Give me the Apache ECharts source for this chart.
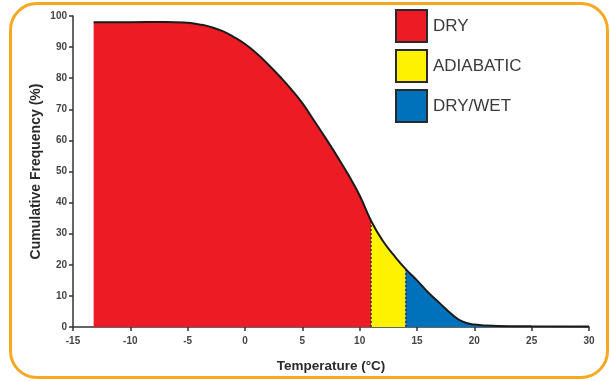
<!DOCTYPE html>
<html>
<head>
<meta charset="utf-8">
<script src="https://cdn.jsdelivr.net/npm/echarts@6/dist/echarts.min.js"></script>
<style>
	html, body { margin: 0; padding: 0; background: #fff; }
	#wrap { position: relative; width: 610px; height: 381px; }
	#chart { position: absolute; left: 0; top: 0; width: 610px; height: 381px; }
	#frame {
		position: absolute; left: 9px; top: 2px; width: 594px; height: 371px;
		border: 3px solid #f7a823; border-radius: 28px; pointer-events: none;
	}
</style>
</head>
<body>
<div id="wrap">
	<div id="chart"></div>
	<div id="frame"></div>
</div>
<script>
// curve
var tempC = [-13.2, -10, -7, -5, -4, -3, -2, -1, 0, 1, 2, 3, 4, 5, 6, 7, 8, 9, 10, 11, 12, 13, 14, 15, 16, 17, 18, 19, 20, 22, 25, 30]
var freq = [98, 98, 98.1, 97.8, 97.3, 96.5, 95.2, 93.3, 91, 88, 84.5, 80.7, 76.6, 72, 66.5, 60.9, 55.1, 49, 42.3, 34.1, 27.8, 23, 18.7, 15, 11, 7.6, 4.2, 1.7, 0.8, 0.35, 0.25, 0.2]
// zone limits (°C)
var dryEnd = 11
var adiabaticEnd = 14
var zoneNames = ['DRY', 'ADIABATIC', 'DRY/WET']
var zoneColors = ['#ed1c24', '#fff200', '#0072bc']

var points = tempC.map(function (t, i) { return [t, freq[i]] })
function slice(lo, hi) {
	return points.filter(function (p) { return p[0] >= lo && p[0] <= hi })
}
function freqAt(t) {
	return freq[tempC.indexOf(t)]
}

var chart = echarts.init(document.getElementById('chart'))
var font = '"Liberation Sans", Arial, sans-serif'

function zone(name, color, data) {
	return {
		name: name,
		type: 'line',
		data: data,
		smooth: 0.5,
		symbol: 'none',
		itemStyle: { color: color },
		lineStyle: { width: 0 },
		areaStyle: { color: color, opacity: 1 },
		silent: true,
		z: 2
	}
}

chart.setOption({
	animation: false,
	grid: { left: 73, right: 21, top: 16, bottom: 54 },
	legend: {
		data: zoneNames,
		orient: 'vertical',
		left: 395,
		top: 9,
		padding: 0,
		itemWidth: 31,
		itemHeight: 32,
		itemGap: 6,
		icon: 'rect',
		itemStyle: { borderColor: '#2a2a2a', borderWidth: 2 },
		textStyle: { fontFamily: font, fontSize: 17, color: '#3a3a3a', padding: [0, 0, 0, 1] },
		selectedMode: false
	},
	xAxis: {
		type: 'value',
		min: -15,
		max: 30,
		interval: 5,
		name: 'Temperature (°C)',
		nameLocation: 'middle',
		nameGap: 32,
		nameMoveOverlap: false,
		nameTextStyle: { fontFamily: font, fontWeight: 'bold', fontSize: 13.5, color: '#2a2a2a' },
		axisLine: { onZero: false, lineStyle: { color: '#333', width: 1.5 } },
		axisTick: { length: 4, lineStyle: { color: '#333', width: 1.5 } },
		axisLabel: { fontFamily: font, fontWeight: 'bold', fontSize: 10, color: '#444', margin: 9 },
		splitLine: { show: false }
	},
	yAxis: {
		type: 'value',
		min: 0,
		max: 100,
		interval: 10,
		name: 'Cumulative Frequency (%)',
		nameLocation: 'middle',
		nameGap: 30,
		nameMoveOverlap: false,
		nameTextStyle: { fontFamily: font, fontWeight: 'bold', fontSize: 14, color: '#2a2a2a' },
		axisLine: { show: true, onZero: false, lineStyle: { color: '#333', width: 1.5 } },
		axisTick: { show: true, length: 4, lineStyle: { color: '#333', width: 1.5 } },
		axisLabel: { fontFamily: font, fontWeight: 'bold', fontSize: 10, color: '#444', margin: 6 },
		splitLine: { show: false }
	},
	series: [
		zone(zoneNames[0], zoneColors[0], slice(-100, dryEnd)),
		zone(zoneNames[1], zoneColors[1], slice(dryEnd, adiabaticEnd)),
		zone(zoneNames[2], zoneColors[2], slice(adiabaticEnd, 100)),
		{
			name: 'curve',
			type: 'line',
			data: points,
			smooth: 0.5,
			symbol: 'none',
			lineStyle: { color: '#1a1a1a', width: 2 },
			silent: true,
			z: 5,
			markLine: {
				silent: true,
				symbol: 'none',
				label: { show: false },
				lineStyle: { type: [2, 2], color: '#333', width: 1.5 },
				data: [
					[{ coord: [dryEnd, 0] }, { coord: [dryEnd, freqAt(dryEnd)] }],
					[{ coord: [adiabaticEnd, 0] }, { coord: [adiabaticEnd, freqAt(adiabaticEnd)] }]
				]
			}
		}
	]
})
</script>
</body>
</html>
